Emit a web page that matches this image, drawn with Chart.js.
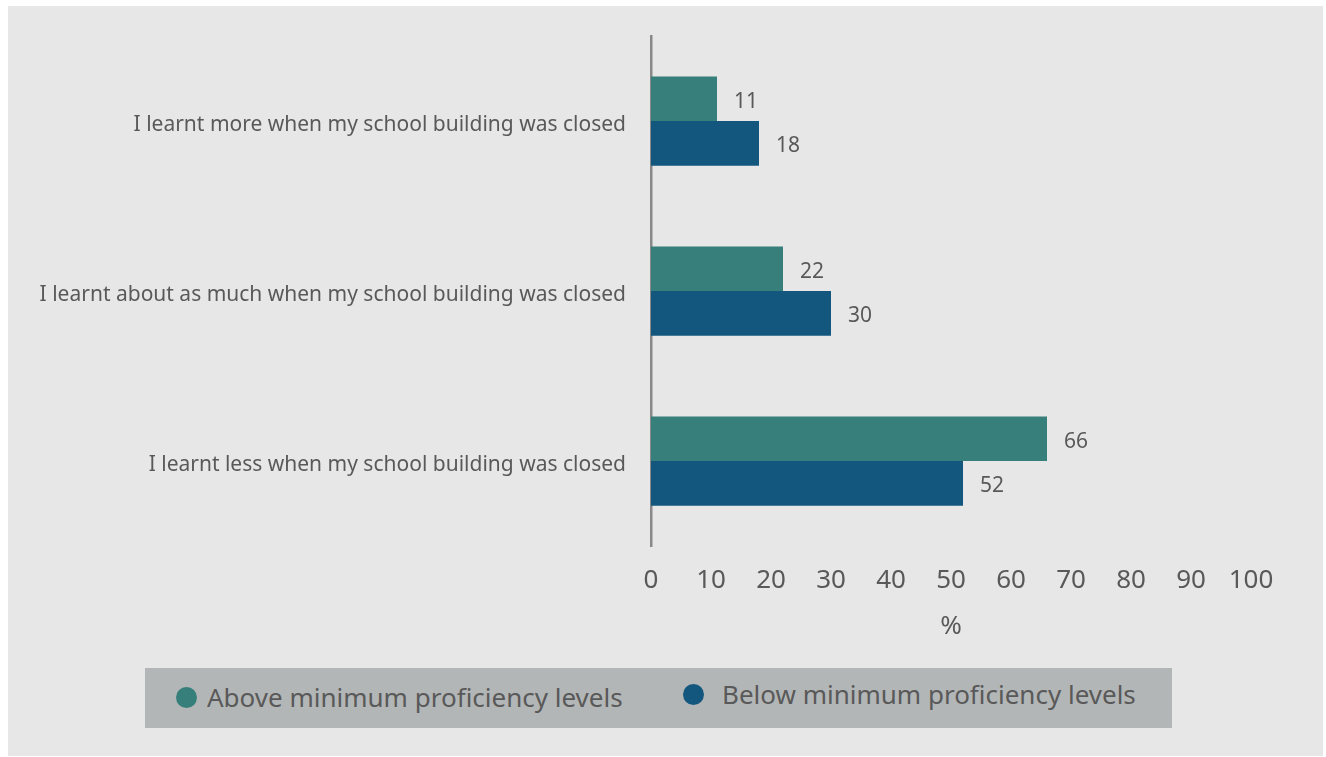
<!DOCTYPE html>
<html>
<head>
<meta charset="utf-8">
<script src="https://cdn.jsdelivr.net/npm/chart.js@4"></script>
<style>
  html, body { margin: 0; padding: 0; background: #ffffff; }
  #panel { position: absolute; left: 8px; top: 6px; width: 1315px; height: 750px; background: #e7e7e7; }
  #chart { position: absolute; left: 0; top: 0; }
  #legend { position: absolute; left: 137px; top: 662px; width: 1027px; height: 60px; background: #b3b6b6;
            font-family: "Noto Sans", sans-serif; font-size: 26px; line-height: 35px; color: #595959; }
  .item { position: absolute; display: flex; align-items: center; }
  .dot { width: 21px; height: 21px; border-radius: 50%; margin-right: 10px; }
</style>
</head>
<body>
<div id="panel">
  <canvas id="chart" width="1315" height="750"></canvas>
  <div id="legend"></div>
</div>
<script>
const categories = [
  'I learnt more when my school building was closed',
  'I learnt about as much when my school building was closed',
  'I learnt less when my school building was closed'
];
const seriesNames = ['Above minimum proficiency levels', 'Below minimum proficiency levels'];
const aboveValues = [11, 22, 66];
const belowValues = [18, 30, 52];
const seriesColors = ['#367f7b', '#13577f'];
const xTicks = [0, 10, 20, 30, 40, 50, 60, 70, 80, 90, 100];

const textGray = '#595959';
const font = 'Noto Sans';

// value labels to the right of each bar
const barValueLabels = {
  id: 'barValueLabels',
  afterDatasetsDraw(chart) {
    const ctx = chart.ctx;
    ctx.save();
    ctx.font = '21px "' + font + '"';
    ctx.fillStyle = textGray;
    ctx.textAlign = 'left';
    ctx.textBaseline = 'middle';
    chart.data.datasets.forEach((ds, i) => {
      chart.getDatasetMeta(i).data.forEach((bar, j) => {
        ctx.fillText(String(ds.data[j]), bar.x + 17, bar.y + 3);
      });
    });
    ctx.restore();
  }
};

new Chart(document.getElementById('chart'), {
  type: 'bar',
  data: {
    labels: categories,
    datasets: [
      { label: seriesNames[0], data: aboveValues, backgroundColor: seriesColors[0] },
      { label: seriesNames[1], data: belowValues, backgroundColor: seriesColors[1] }
    ]
  },
  options: {
    indexAxis: 'y',
    responsive: false,
    animation: false,
    categoryPercentage: 0.525,
    barPercentage: 1,
    layout: { padding: { top: 30, right: 72, bottom: 114, left: 0 } },
    plugins: { legend: { display: false }, tooltip: { enabled: false } },
    scales: {
      x: {
        min: 0, max: 100,
        afterBuildTicks: s => { s.ticks = xTicks.map(v => ({ value: v })); },
        afterFit: s => { s.height = 96; },
        grid: { display: false, drawTicks: false },
        border: { display: false },
        ticks: { color: textGray, font: { family: font, size: 26 }, padding: 19, maxRotation: 0 },
        title: { display: true, text: '%', color: textGray, font: { family: font, size: 26 }, padding: 0 }
      },
      y: {
        afterFit: s => { s.width = 643; s.paddingTop = 0; s.paddingBottom = 0; },
        grid: { display: false, drawTicks: false },
        border: { display: true, color: '#898989', width: 2.5 },
        ticks: { color: textGray, font: { family: font, size: 21 }, padding: 25, labelOffset: 4 }
      }
    }
  },
  plugins: [barValueLabels]
});

// legend strip under the chart
const legend = document.getElementById('legend');
const itemPos = [{ left: 31, top: 12, gap: 10 }, { left: 538, top: 9, gap: 18 }];
seriesNames.forEach((name, i) => {
  const el = document.createElement('div');
  el.className = 'item';
  el.style.left = itemPos[i].left + 'px';
  el.style.top = itemPos[i].top + 'px';
  el.innerHTML = '<span class="dot" style="background:' + seriesColors[i] + ';margin-right:' + itemPos[i].gap + 'px"></span><span>' + name + '</span>';
  legend.appendChild(el);
});
</script>
</body>
</html>
